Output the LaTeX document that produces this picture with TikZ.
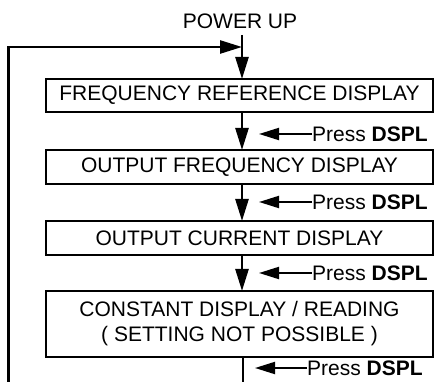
\documentclass[tikz,border=0pt]{standalone}
\usepackage{fontspec}
\setmainfont{Liberation Sans}
\usetikzlibrary{arrows.meta}
\tikzset{
  box/.style={draw, line width=1.2pt, minimum width=387pt, inner sep=0pt, align=center, font=\fontsize{21}{25}\selectfont},
  flow/.style={line width=2.5pt, -{Triangle[length=22pt,width=13pt]}},
  loopline/.style={line width=2.8pt},
  press/.style={line width=2pt, -{Triangle[length=20pt,width=12pt]}},
  lbl/.style={font=\fontsize{21}{25}\selectfont, inner sep=0pt, anchor=west}
}
\begin{document}
\begin{tikzpicture}[x=1pt,y=-1pt]
\useasboundingbox (0,0) rectangle (434,382);
\node[lbl, anchor=center] (pwr) at (240,21) {POWER UP};
\node[box, minimum height=33pt] (b1) at (239.5,95.5) {FREQUENCY REFERENCE DISPLAY};
\node[box, minimum height=34pt] (b2) at (239.5,167) {OUTPUT FREQUENCY DISPLAY};
\node[box, minimum height=34pt] (b3) at (239.5,238) {OUTPUT CURRENT DISPLAY};
\node[box, minimum height=66pt] (b4) at (239.5,324) {CONSTANT DISPLAY / READING\\( SETTING NOT POSSIBLE )};
\coordinate (top) at (242,35);
\coordinate (join) at (242,47);
\coordinate (c1t) at (242,79);
\coordinate (c1b) at (242,112);
\coordinate (c2t) at (242,150);
\coordinate (c2b) at (242,184);
\coordinate (c3t) at (242,221);
\coordinate (c3b) at (242,255);
\coordinate (c4t) at (242,291);
\coordinate (c4b) at (243,357);
\coordinate (bl) at (243,383.2);
\coordinate (br) at (8.5,383.2);
\coordinate (tl) at (8.5,47);
\draw[flow] (top) -- (c1t);
\draw[flow] (c1b) -- (c2t);
\draw[flow] (c2b) -- (c3t);
\draw[flow] (c3b) -- (c4t);
\draw[loopline] (c4b) -- (bl);
\draw[loopline] (bl) -- (br) -- (tl) -- (222,47);
\draw[flow] (tl) -- (join);
% press labels
\node[lbl] (p1) at (312,134) {Press \textbf{DSPL}};
\node[lbl] (p2) at (312,202) {Press \textbf{DSPL}};
\node[lbl] (p3) at (312,273) {Press \textbf{DSPL}};
\node[lbl] (p4) at (307,368) {Press \textbf{DSPL}};
\coordinate (a1) at (259,134);
\coordinate (a2) at (259,202);
\coordinate (a3) at (259,273);
\coordinate (a4) at (255,368);
\draw[press] (p1.west) -- (a1);
\draw[press] (p2.west) -- (a2);
\draw[press] (p3.west) -- (a3);
\draw[press] (p4.west) -- (a4);
\end{tikzpicture}
\end{document}
